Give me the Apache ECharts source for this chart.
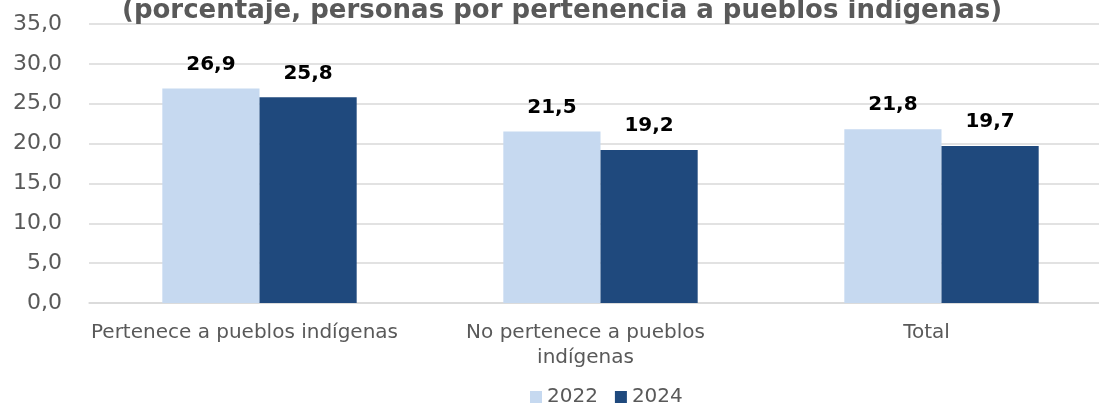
<!DOCTYPE html>
<html>
<head>
<meta charset="utf-8">
<script src="https://cdn.jsdelivr.net/npm/echarts@6/dist/echarts.min.js"></script>
<style>
  html, body { margin: 0; padding: 0; background: #fff; overflow: hidden; }
  #chart { width: 1112px; height: 404px; }
</style>
</head>
<body>
<div id="chart"></div>
<script>
// datos
const categorias = ['Pertenece a pueblos indígenas', 'No pertenece a pueblos\nindígenas', 'Total'];
const serie2022 = [26.9, 21.5, 21.8];
const serie2024 = [25.8, 19.2, 19.7];
const anios = ['2022', '2024'];

const fuente = '"DejaVu Sans", Verdana, sans-serif';
const coma = (v) => v.toFixed(1).replace('.', ',');

// el área de trazado sobresale un poco por la derecha, como en el original
const myChart = echarts.init(document.getElementById('chart'));
myChart.setOption({
  animation: false,
  textStyle: { fontFamily: fuente },
  title: {
    text: '(porcentaje, personas por pertenencia a pueblos indígenas)',
    left: 122,
    top: -2,
    padding: 0,
    textStyle: { fontSize: 26, fontWeight: 'bold', color: '#595959', fontFamily: fuente }
  },
  legend: {
    data: anios,
    top: 387,
    left: 530,
    itemWidth: 12,
    itemHeight: 12,
    itemGap: 17,
    padding: 0,
    icon: 'rect',
    textStyle: { fontSize: 20, color: '#595959', fontFamily: fuente }
  },
  grid: { left: 89, right: 0, top: 24, bottom: 101, containLabel: false },
  xAxis: {
    type: 'category',
    data: categorias,
    axisTick: { show: false },
    axisLine: { lineStyle: { color: '#d9d9d9', width: 1.5 } },
    axisLabel: {
      interval: 0,
      margin: 17,
      fontSize: 20,
      lineHeight: 25,
      padding: [0, 30, 0, 0],
      color: '#595959',
      fontFamily: fuente
    }
  },
  yAxis: {
    type: 'value',
    min: 0,
    max: 35,
    interval: 5,
    axisLine: { show: false },
    axisTick: { show: false },
    splitLine: { lineStyle: { color: '#d9d9d9', width: 1.5 } },
    axisLabel: {
      fontSize: 22,
      color: '#595959',
      margin: 27,
      fontFamily: fuente,
      formatter: coma
    }
  },
  series: [
    {
      name: anios[0],
      type: 'bar',
      data: serie2022,
      barGap: '0%',
      barCategoryGap: '43%',
      itemStyle: { color: '#c6d9f0' },
      label: {
        show: true, position: 'top', distance: 14,
        fontSize: 20, fontWeight: 'bold', color: '#000', fontFamily: fuente,
        formatter: (p) => coma(p.value)
      }
    },
    {
      name: anios[1],
      type: 'bar',
      data: serie2024,
      itemStyle: { color: '#1f497d' },
      label: {
        show: true, position: 'top', distance: 14,
        fontSize: 20, fontWeight: 'bold', color: '#000', fontFamily: fuente,
        formatter: (p) => coma(p.value)
      }
    }
  ]
});
</script>
</body>
</html>
